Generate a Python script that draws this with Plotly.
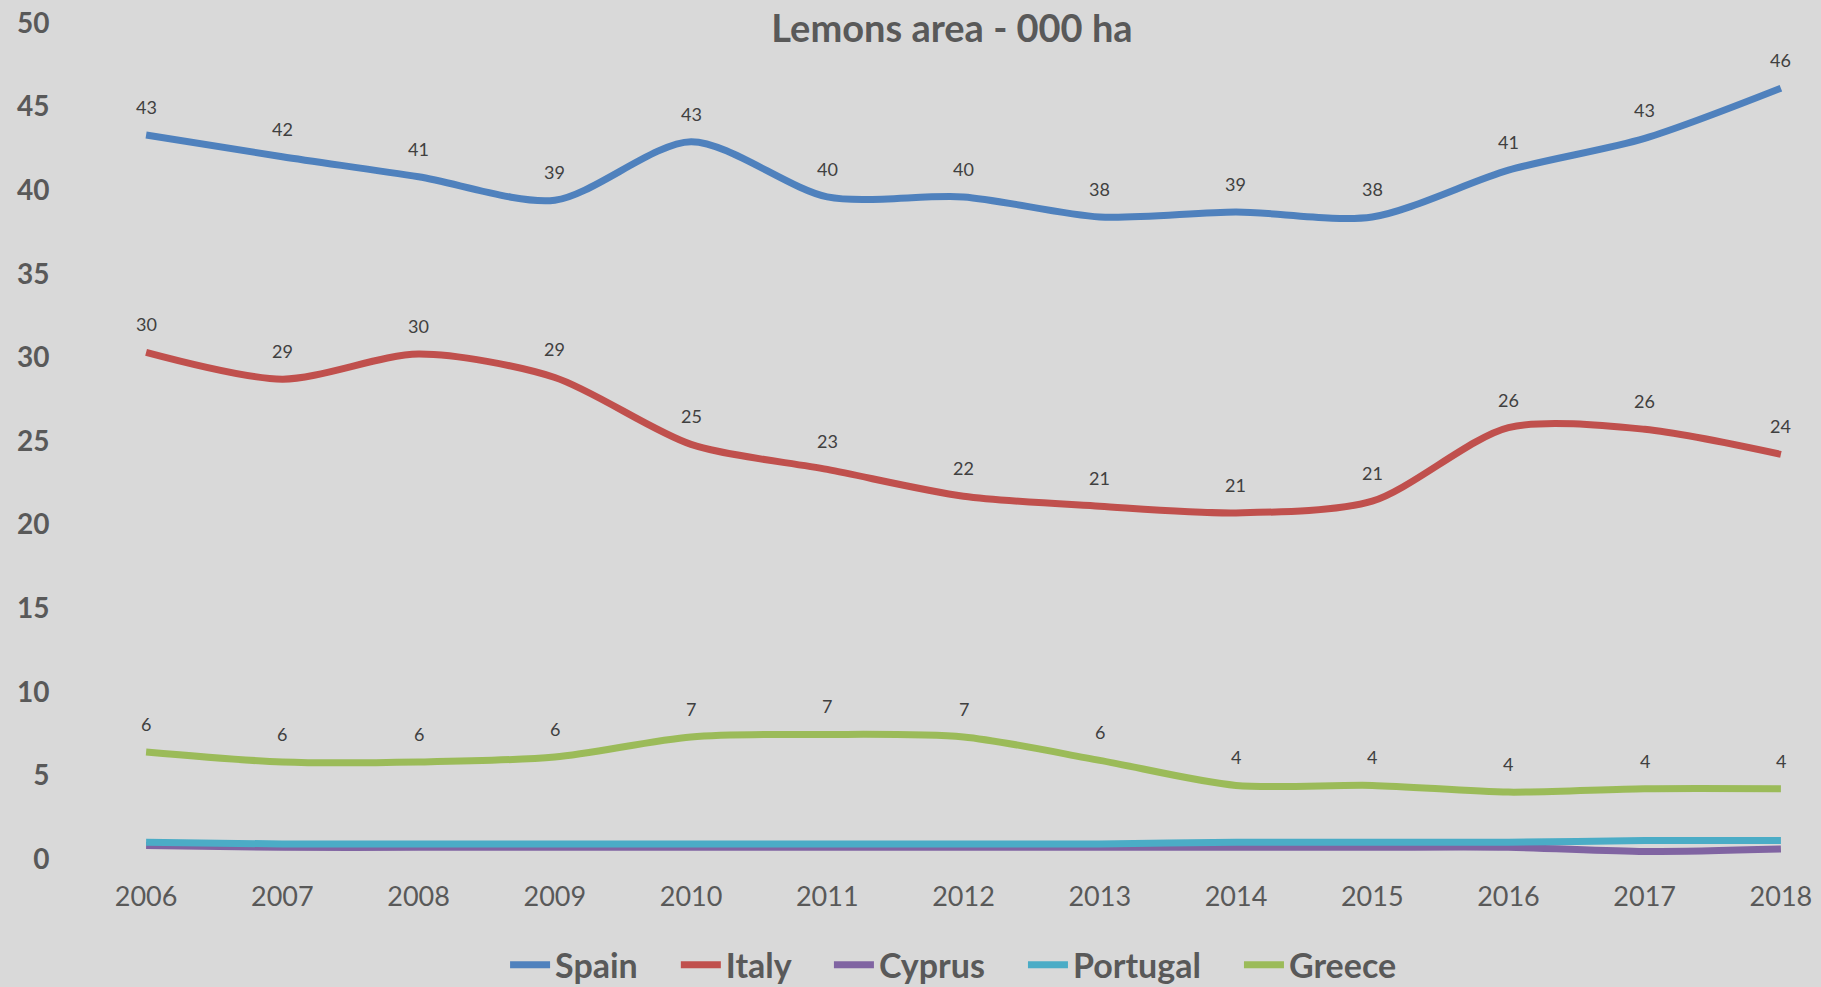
import plotly.graph_objects as go

years = [2006, 2007, 2008, 2009, 2010, 2011, 2012, 2013, 2014, 2015, 2016, 2017, 2018]
spain = [43.3, 42.0, 40.8, 39.4, 42.9, 39.6, 39.6, 38.4, 38.7, 38.4, 41.2, 43.1, 46.1]
italy = [30.3, 28.7, 30.2, 28.8, 24.8, 23.3, 21.7, 21.1, 20.7, 21.4, 25.8, 25.7, 24.2]
cyprus = [0.8, 0.7, 0.7, 0.7, 0.7, 0.7, 0.7, 0.7, 0.7, 0.7, 0.7, 0.45, 0.6]
portugal = [1.0, 0.9, 0.9, 0.9, 0.9, 0.9, 0.9, 0.9, 1.0, 1.0, 1.0, 1.1, 1.1]
greece = [6.4, 5.8, 5.8, 6.1, 7.3, 7.45, 7.3, 5.9, 4.4, 4.4, 4.0, 4.2, 4.2]

series = [
    ("Spain", spain, "#4F81BD", True),
    ("Italy", italy, "#C0504D", True),
    ("Cyprus", cyprus, "#8064A2", False),
    ("Portugal", portugal, "#4BACC6", False),
    ("Greece", greece, "#9BBB59", True),
]

FONT = "Lato, 'Open Sans', sans-serif"
PAD = "\u00a0" * 4
fig = go.Figure()
annotations = []
for name, vals, color, labelled in series:
    fig.add_trace(go.Scatter(
        x=years, y=vals, name=name + PAD, mode="lines",
        line=dict(color=color, width=7, shape="spline", smoothing=0.8),
    ))
    if labelled:
        for x, v in zip(years, vals):
            annotations.append(dict(
                x=x, y=v, text=f"{v:.0f}", showarrow=False, yshift=28,
                font=dict(family=FONT, size=18, color="#404040"),
                xanchor="center", yanchor="middle",
            ))

fig.update_layout(
    width=1821, height=987,
    margin=dict(l=142, r=36, t=23, b=128, autoexpand=False),
    paper_bgcolor="#D9D9D9", plot_bgcolor="#D9D9D9",
    title=dict(text="<b>Lemons area - 000 ha</b>", x=0.493, xref="paper",
               y=1 - 29 / 987, yref="container", xanchor="center", yanchor="middle",
               font=dict(family=FONT, size=38, color="#595959")),
    showlegend=True,
    legend=dict(orientation="h", x=0.504, xanchor="center", y=-0.127, yanchor="middle",
                font=dict(family=FONT, size=34, color="#595959", weight="bold"),
                bgcolor="rgba(0,0,0,0)", itemwidth=40, tracegroupgap=0),
    annotations=annotations,
)
fig.update_xaxes(
    range=[2005.97, 2018.03], tickmode="array", tickvals=years,
    ticktext=[str(y) for y in years], showgrid=False, zeroline=False, showline=False,
    ticks="outside", ticklen=14, tickcolor="rgba(0,0,0,0)", automargin=False,
    tickfont=dict(family=FONT, size=27, color="#595959"),
)
fig.update_yaxes(
    range=[0, 50], tickmode="array", tickvals=[0, 5, 10, 15, 20, 25, 30, 35, 40, 45, 50],
    showgrid=False, zeroline=False, showline=False,
    ticks="outside", ticklen=86, tickcolor="rgba(0,0,0,0)", automargin=False,
    tickfont=dict(family=FONT, size=28, color="#595959", weight="bold"),
)
fig.write_html("out.html", config={"displayModeBar": False},
               post_script="document.body.style.margin='0';document.body.style.overflow='hidden';")
